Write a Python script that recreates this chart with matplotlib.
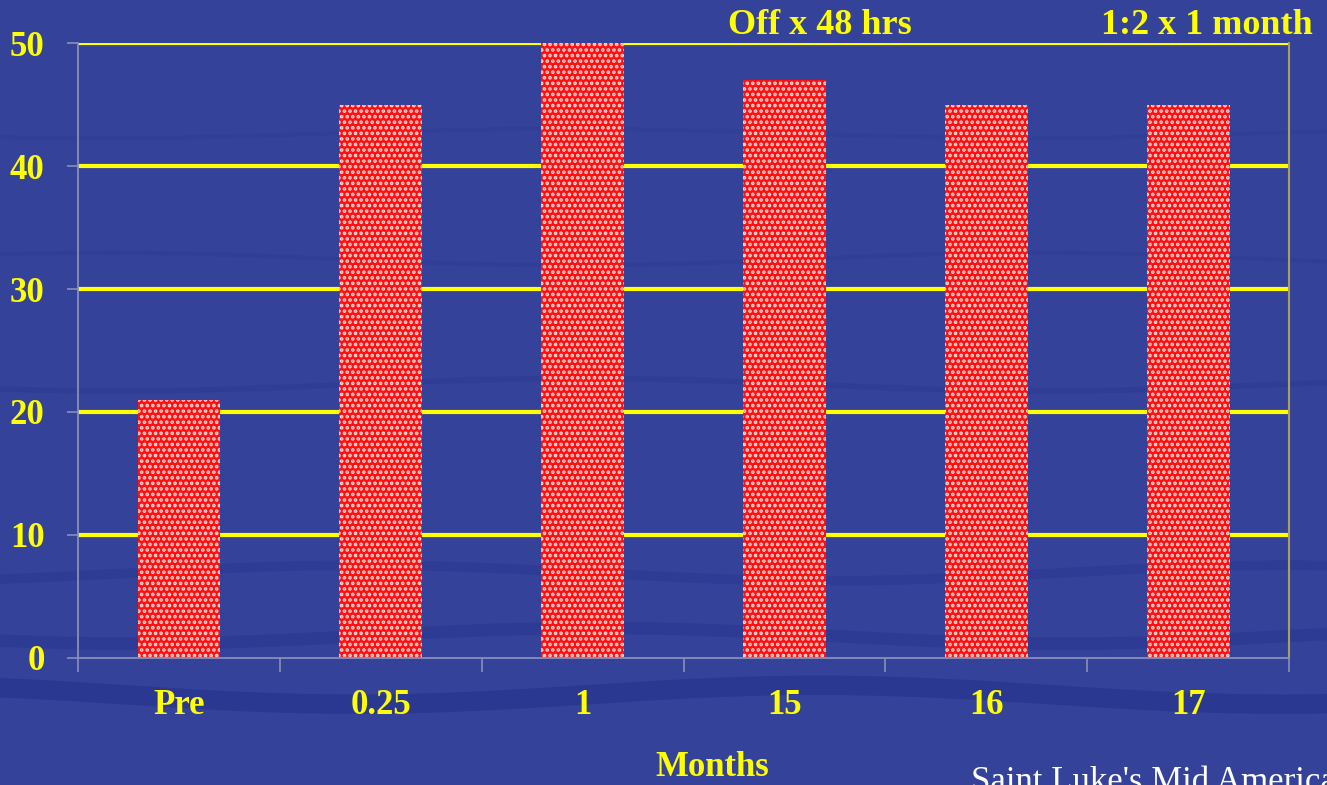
import matplotlib.pyplot as plt
import numpy as np

months = ['Pre', '0.25', '1', '15', '16', '17']
values = [21, 45, 50, 47, 45, 45]
yticks = [0, 10, 20, 30, 40, 50]

bg = '#34429a'
yellow = '#ffff00'
serif = ['Liberation Serif', 'DejaVu Serif']

plt.rcParams['hatch.linewidth'] = 1.8

fig = plt.figure(figsize=(13.27, 7.85), dpi=100)
fig.patch.set_facecolor(bg)

# faint darker waves in the slide background
bgax = fig.add_axes([0, 0, 1, 1], zorder=-1)
bgax.set_xlim(0, 1)
bgax.set_ylim(0, 1)
bgax.axis('off')
wx = np.linspace(0, 1, 200)
for base, amp, lw, a in [(0.115, 0.012, 14, 0.55), (0.19, 0.01, 9, 0.35),
                         (0.27, 0.01, 7, 0.3), (0.51, 0.008, 4, 0.25),
                         (0.67, 0.008, 3, 0.2), (0.83, 0.006, 3, 0.15)]:
    bgax.plot(wx, base + amp * np.sin(wx * 9 + base * 20), color='#22308a',
              lw=lw, alpha=a, solid_capstyle='butt')

ax = fig.add_axes([0.0588, 0.1618, 0.9126, 0.7834])
ax.set_facecolor('none')

x = np.arange(len(months))
ax.set_xlim(-0.5, len(months) - 0.5)
ax.set_ylim(0, 50)

for y in yticks[1:]:
    ax.axhline(y, color=yellow, lw=3, zorder=1)

ax.bar(x, values, width=0.41, color='#ff1010', edgecolor='#ffd8d8',
       linewidth=0, hatch='...', zorder=2)

ax.set_yticks(yticks)
ax.set_yticklabels([str(v) for v in yticks])
ax.set_xticks(x)
ax.set_xticklabels(months)
ax.set_xticks(np.arange(-0.5, len(months)), minor=True)
ax.tick_params(axis='x', which='major', length=0, pad=22)
ax.tick_params(axis='x', which='minor', length=10, color='#8890b8', width=1.2)
ax.tick_params(axis='y', length=8, color='#8890b8', width=1.2, pad=16)
for lab in ax.get_xticklabels() + ax.get_yticklabels():
    lab.set_family(serif)
    lab.set_fontweight('bold')
    lab.set_fontsize(25)
    lab.set_color(yellow)

for side in ['left', 'bottom']:
    ax.spines[side].set_color('#8890b8')
    ax.spines[side].set_linewidth(1.3)
ax.spines['right'].set_color('#a8a060')
ax.spines['right'].set_linewidth(1.5)
ax.spines['top'].set_visible(False)

fig.text(0.537, 0.022, 'Months', family=serif, fontweight='bold', fontsize=25,
         color=yellow, ha='center', va='center')
fig.text(0.618, 0.968, 'Off x 48 hrs', family=serif, fontweight='bold',
         fontsize=26, color=yellow, ha='center', va='center')
fig.text(0.989, 0.968, '1:2 x 1 month', family=serif, fontsize=26,
         fontweight='bold', color=yellow, ha='right', va='center')
fig.text(0.732, -0.018, "Saint Luke's Mid America", family=serif,
         fontsize=25, color='white', ha='left', va='bottom')

fig.savefig('out.png', dpi=100, facecolor=bg)
